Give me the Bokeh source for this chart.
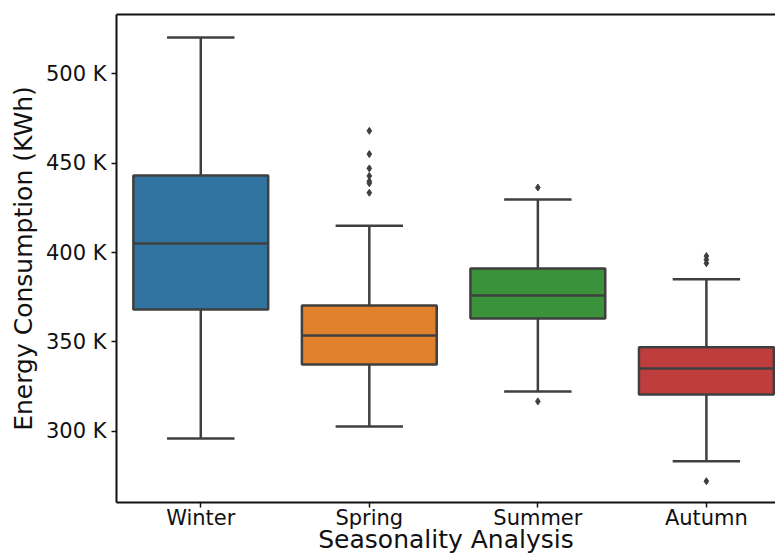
from bokeh.plotting import figure
from bokeh.models import Range1d, FixedTicker, CustomJSTickFormatter, LinearAxis, ColumnDataSource
from bokeh.embed import file_html
from bokeh.resources import INLINE

seasons = ["Winter", "Spring", "Summer", "Autumn"]
colors = ["#3274a1", "#e1812c", "#3a923a", "#c03d3e"]
lower = [296000, 302800, 322300, 283400]
q1 = [368200, 337400, 363100, 320700]
median = [405000, 353600, 376000, 335200]
q3 = [443000, 370400, 391000, 347100]
upper = [520100, 415000, 429600, 385000]
outliers = {
    "Spring": [468000, 455000, 447000, 442800, 439800, 438700, 433400],
    "Summer": [436300, 316800],
    "Autumn": [398000, 396000, 394000, 272200],
}
y_ticks = [300000, 350000, 400000, 450000, 500000]

xs = list(range(len(seasons)))
LINE = "#3f3f3f"
FONT = "DejaVu Sans"

p = figure(width=775, height=556, output_backend="svg", toolbar_location=None,
           x_range=Range1d(-0.5, 3.41), y_range=Range1d(260300, 533000),
           min_border_left=116, min_border_top=14, min_border_right=0, min_border_bottom=54)
p.outline_line_color = None
p.xgrid.visible = False
p.ygrid.visible = False
p.background_fill_color = "white"

src = ColumnDataSource(dict(x=xs, lower=lower, q1=q1, median=median, q3=q3, upper=upper, color=colors,
                            cl=[x - 0.2 for x in xs], cr=[x + 0.2 for x in xs],
                            bl=[x - 0.4 for x in xs], br=[x + 0.4 for x in xs]))

# whiskers
p.segment(x0="x", y0="q3", x1="x", y1="upper", source=src, line_color=LINE, line_width=2.5)
p.segment(x0="x", y0="q1", x1="x", y1="lower", source=src, line_color=LINE, line_width=2.5)
# caps
p.segment(x0="cl", y0="upper", x1="cr", y1="upper", source=src, line_color=LINE, line_width=2.5)
p.segment(x0="cl", y0="lower", x1="cr", y1="lower", source=src, line_color=LINE, line_width=2.5)
# boxes
p.vbar(x="x", bottom="q1", top="q3", width=0.8, source=src, fill_color="color",
       line_color=LINE, line_width=2.5)
# medians
p.segment(x0="bl", y0="median", x1="br", y1="median", source=src, line_color=LINE, line_width=2.5)

ox, oy = [], []
for s, vals in outliers.items():
    for v in vals:
        ox.append(seasons.index(s))
        oy.append(v)
p.scatter(ox, oy, marker="diamond", size=7, fill_color=LINE, line_color=LINE)

# axes
p.xaxis.ticker = FixedTicker(ticks=xs)
p.xaxis.major_label_overrides = {i: s for i, s in enumerate(seasons)}
p.yaxis.ticker = FixedTicker(ticks=y_ticks)
p.yaxis.formatter = CustomJSTickFormatter(code="return (tick/1000).toFixed(0) + ' K';")
for ax in (p.xaxis[0], p.yaxis[0]):
    ax.axis_line_width = 2
    ax.axis_line_color = "#111111"
    ax.major_tick_line_color = "#111111"
    ax.major_tick_line_width = 1.5
    ax.major_tick_out = 5
    ax.major_tick_in = 0
    ax.minor_tick_line_color = None
    ax.major_label_text_font = FONT
    ax.major_label_text_font_size = "21px"
    ax.major_label_text_color = "#111111"
    ax.axis_label_text_font = FONT
    ax.axis_label_text_font_style = "normal"
    ax.axis_label_text_color = "#111111"
p.yaxis.axis_label = "Energy Consumption (KWh)"
p.yaxis.axis_label_text_font_size = "25px"
p.yaxis.axis_label_standoff = 5
p.yaxis.major_label_standoff = 5
p.xaxis.axis_label = "Seasonality Analysis"
p.xaxis.axis_label_text_font_size = "25px"
p.xaxis.major_label_standoff = -2
p.xaxis.axis_label_standoff = -8

top = LinearAxis(ticker=FixedTicker(ticks=[]), major_label_text_font_size="0px",
                 major_tick_out=0, major_tick_in=0, minor_tick_out=0, minor_tick_in=0,
                 major_label_standoff=0, axis_line_width=2, axis_line_color="#111111")
p.add_layout(top, "above")

open("out.html", "w").write(file_html(p, INLINE))
